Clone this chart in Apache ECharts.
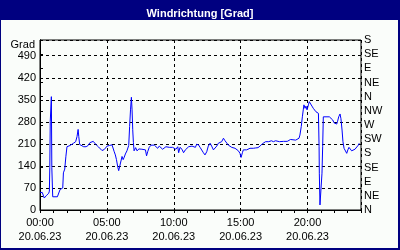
<!DOCTYPE html>
<html>
<head>
<meta charset="utf-8">
<script src="https://cdn.jsdelivr.net/npm/echarts@6/dist/echarts.min.js"></script>
<style>
html,body{margin:0;padding:0;background:#fff;}
#c{width:400px;height:250px;}
</style>
</head>
<body>
<div id="c"></div>
<script>
var titleText = 'Windrichtung [Grad]';
var unitText = 'Grad';
var dateText = '20.06.23';
var rightLabels = ['N','NE','E','SE','S','SW','W','NW','N','NE','E','SE','S'];
var minutes = [0,10,19,30,39,42,44,46,49,51,53,57,78,84,90,102,105,111,116,121,129,135,140,150,160,166,171,174,178,186,196,207,216,224,231,239,248,255,263,270,278,288,301,312,323,327,333,338,343,349,353,358,363,368,373,378,383,390,395,398,402,406,410,413,416,419,422,429,435,444,450,457,465,473,478,483,490,498,505,513,520,528,535,543,550,558,565,573,580,588,595,603,610,618,622,628,637,644,652,658,667,674,682,689,697,703,712,718,725,733,740,748,755,763,770,778,785,793,800,808,815,823,830,838,845,853,860,868,875,883,890,897,902,908,912,920,927,935,942,950,957,966,978,987,997,1012,1026,1038,1047,1057,1074,1092,1109,1117,1124,1132,1147,1154,1162,1166,1172,1177,1181,1184,1189,1193,1198,1204,1208,1214,1220,1226,1232,1238,1244,1249,1252,1253,1256,1259,1262,1265,1268,1271,1277,1283,1290,1298,1305,1313,1319,1326,1331,1335,1340,1346,1350,1355,1359,1364,1370,1376,1381,1386,1392,1398,1405,1413,1421,1428,1432];
var degrees = [55,56,38,47,53,60,135,282,282,360,135,42,42,45,65,70,118,130,169,201,196,205,210,212,217,233,256,233,208,205,201,201,205,214,219,218,210,208,200,195,189,192,203,205,207,201,185,175,160,136,125,140,142,170,160,168,178,188,190,205,265,318,358,318,255,214,188,198,188,194,198,193,198,191,172,185,199,206,209,206,201,196,203,199,193,199,201,206,199,196,199,201,193,201,182,199,193,182,191,196,201,196,203,201,199,209,206,199,193,182,175,185,203,212,203,191,196,203,212,214,217,228,220,214,206,210,199,203,196,193,188,180,167,182,191,185,191,193,196,195,196,197,198,203,210,217,217,220,217,220,217,218,218,222,224,220,222,224,228,238,265,296,318,334,323,330,318,334,344,340,330,323,318,312,307,307,201,117,16,13,20,117,201,296,300,296,298,296,293,286,277,275,273,282,296,305,290,254,217,196,191,180,191,199,193,188,191,193,199,206,212];

var seriesData = minutes.map(function(m, i){ return [m, degrees[i]]; });
function pad(n){ return (n < 10 ? '0' : '') + n; }

var font = 'Liberation Sans, Arial, sans-serif';
var chart = echarts.init(document.getElementById('c'), null, {renderer:'canvas'});
chart.setOption({
  animation: false,
  backgroundColor: '#000080',
  graphic: [
    {type:'rect', shape:{x:1, y:20, width:397, height:228}, style:{fill:'#FAFDFA'}, z:-10, silent:true}
  ],
  title: [
    {text: titleText, left:'center', top:3, textStyle:{color:'#fff', fontWeight:'bold', fontSize:11, fontFamily:font}},
    {text: unitText, right:365, top:39, padding:0, textStyle:{color:'#000', fontWeight:'normal', fontSize:11, fontFamily:font}}
  ],
  grid: {left:40, top:40, width:321, height:170, show:true, borderColor:'#000', borderWidth:1, backgroundColor:'transparent'},
  xAxis: [
    {type:'value', min:0, max:1440, interval:300,
     axisLine:{show:true, lineStyle:{color:'#000', width:1}},
     axisTick:{show:true, length:3, lineStyle:{color:'#000'}},
     splitLine:{show:true, lineStyle:{color:'#000', type:[3,3], width:1}},
     axisLabel:{showMaxLabel:false, margin:6, lineHeight:14, color:'#000', fontSize:11, fontFamily:font,
       formatter:function(v){ if (v >= 1440) return ''; return pad(Math.floor(v/60)) + ':' + pad(v%60) + '\n' + dateText; }}},
    {type:'value', min:0, max:1440, interval:60, position:'bottom',
     axisLine:{show:false}, axisTick:{show:true, length:3, lineStyle:{color:'#000'}},
     splitLine:{show:false}, axisLabel:{show:false}}
  ],
  yAxis: [
    {type:'value', min:0, max:540, interval:70, position:'left',
     axisLine:{show:true, lineStyle:{color:'#000'}},
     axisTick:{show:false},
     splitLine:{show:true, lineStyle:{color:'#000', type:[3,3], width:1}},
     axisLabel:{showMaxLabel:false, margin:4, color:'#000', fontSize:11, fontFamily:font,
       formatter:function(v){ return v >= 540 ? '' : String(v); }}},
    {type:'value', min:0, max:540, interval:45, position:'right',
     axisLine:{show:true, lineStyle:{color:'#000'}},
     axisTick:{show:true, length:3, lineStyle:{color:'#000'}},
     splitLine:{show:false},
     axisLabel:{margin:3, color:'#000', fontSize:11, fontFamily:font,
       formatter:function(v){ return rightLabels[Math.round(v/45)] || ''; }}}
  ],
  series: [
    {type:'line', xAxisIndex:0, yAxisIndex:0, data:seriesData, showSymbol:false, symbol:'none',
     lineStyle:{color:'#0000FF', width:1}, itemStyle:{color:'#0000FF'}}
  ]
});
</script>
</body>
</html>
